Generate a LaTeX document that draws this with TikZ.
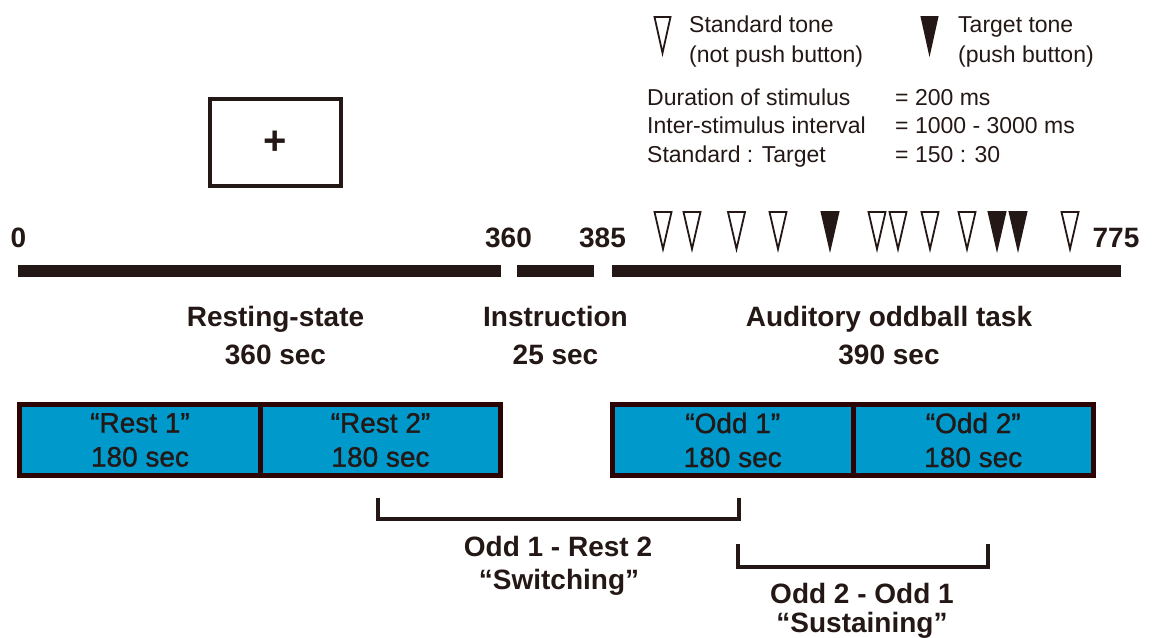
\documentclass[tikz,border=0pt]{standalone}
\usepackage{fontspec}
\setmainfont{Liberation Sans}
\newfontfamily\demigras{Liberation Sans}[FakeBold=1.1]
\usetikzlibrary{positioning}

\definecolor{encre}{RGB}{35,24,21}
\definecolor{cyanbloc}{RGB}{0,153,204}
\definecolor{bordbloc}{RGB}{45,4,4}

\begin{document}
\begin{tikzpicture}[x=1pt,y=-1pt,
    titre/.style={font=\fontsize{28}{34}\selectfont\bfseries, text=encre, anchor=base, inner sep=0pt},
    note/.style={font=\fontsize{23}{28}\selectfont, text=encre, anchor=base west, inner sep=0pt},
    bloc/.style={draw=bordbloc, line width=5pt, fill=cyanbloc, minimum height=71pt, align=center,
                 text=encre, font=\demigras\fontsize{28}{34}\selectfont, inner sep=0pt},
    barre/.style={encre, line width=12pt},
    crochet/.style={encre, line width=4.5pt},
    ton/.style={draw=encre, line width=1.8pt, line join=miter}]

    % Cadre de l'image
    \useasboundingbox (0,0) rectangle (1155,637);

    % Legende des sons
    \draw[ton, fill=white] (654.5,17) -- (670.5,17) -- (662.5,53) -- cycle;
    \node[note] (std) at (689,32) {Standard tone};
    \node[note] (stdbis) at (689,62) {(not push button)};
    \draw[ton, fill=encre] (921.5,17) -- (937.5,17) -- (929.5,53) -- cycle;
    \node[note] (cible) at (958,32) {Target tone};
    \node[note] (ciblebis) at (958,62) {(push button)};

    % Parametres
    \foreach \y/\nom/\val in {105/Duration of stimulus/= 200 ms,
                              133/Inter-stimulus interval/= 1000 - 3000 ms,
                              162/Standard : Target/= 150 : 30}{
      \node[note] (p\y) at (647,\y) {\nom};
      \node[note] (v\y) at (895,\y) {\val};
    }

    % Ecran de fixation
    \node[draw=encre, line width=4pt, minimum width=131pt, minimum height=87pt, inner sep=0pt,
          text=encre, font=\fontsize{40}{40}\selectfont\bfseries] (ecran) at (275.5,142.5) {+};

    % Axe du temps
    \foreach \x/\lbl in {18.5/0, 508.5/360, 602.5/385, 1116/775}{
      \node[titre] (t\lbl) at (\x,247) {\lbl};
    }
    \draw[barre] (18,271) -- (501,271);
    \draw[barre] (517,271) -- (594,271);
    \draw[barre] (612,271) -- (1121,271);

    % Sons (blanc = standard, noir = cible)
    \foreach \x/\teinte in {663/white, 692/white, 736.5/white, 778/white, 830/encre, 877/white,
                            898/white, 930/white, 967/white, 997/encre, 1018/encre, 1070/white}{
      \draw[ton, fill=\teinte] (\x-8.5,212) -- (\x+8.5,212) -- (\x,249) -- cycle;
    }

    % Phases
    \node[titre] (repos) at (275.5,326) {Resting-state};
    \node[titre] (reposd) at (275.5,364) {360 sec};
    \node[titre] (instr) at (555.5,326) {Instruction};
    \node[titre] (instrd) at (555.5,364) {25 sec};
    \node[titre] (tache) at (889,326) {Auditory oddball task};
    \node[titre] (tached) at (889,364) {390 sec};

    % Blocs d'analyse
    \node[bloc, minimum width=241pt] (rest1) at (140,440) {“Rest 1”\\180 sec};
    \node[bloc, minimum width=240pt] (rest2) at (380.5,440) {“Rest 2”\\180 sec};
    \node[bloc, minimum width=240.5pt] (odd1) at (732.75,440) {“Odd 1”\\180 sec};
    \node[bloc, minimum width=240.5pt] (odd2) at (973.25,440) {“Odd 2”\\180 sec};

    % Contrastes
    \coordinate (c1a) at (378,498);
    \coordinate (c1b) at (739,498);
    \draw[crochet] (c1a) -- ++(0,21) -| (c1b);
    \node[titre] (switch) at (558,556) {Odd 1 - Rest 2};
    \node[titre] (switchb) at (559,589) {“Switching”};

    \coordinate (c2a) at (738,544);
    \coordinate (c2b) at (988,544);
    \draw[crochet] (c2a) -- ++(0,23) -| (c2b);
    \node[titre] (sustain) at (862,603) {Odd 2 - Odd 1};
    \node[titre] (sustainb) at (862,632) {“Sustaining”};

  \end{tikzpicture}
\end{document}
